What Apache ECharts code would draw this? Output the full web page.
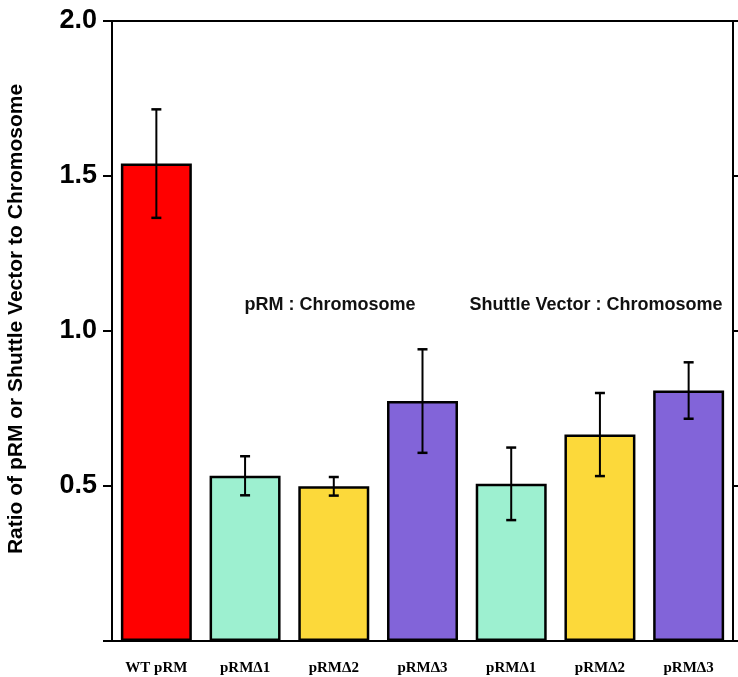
<!DOCTYPE html>
<html>
<head>
<meta charset="utf-8">
<script src="https://cdn.jsdelivr.net/npm/echarts@6/dist/echarts.min.js"></script>
<style>html,body{margin:0;padding:0;background:#fff;}#c{width:738px;height:677px;}</style>
</head>
<body>
<div id="c"></div>
<script>
var categories = ['WT pRM', 'pRM\u03941', 'pRM\u03942', 'pRM\u03943', 'pRM\u03941', 'pRM\u03942', 'pRM\u03943'];
var means = [1.54, 0.533, 0.499, 0.774, 0.507, 0.666, 0.808];
var errors = [0.175, 0.063, 0.03, 0.167, 0.117, 0.134, 0.091];
var barColors = ['#FF0000', '#9DF0D0', '#FCD93A', '#8264D9', '#9DF0D0', '#FCD93A', '#8264D9'];
var yTicks = [0, 0.5, 1.0, 1.5, 2.0];
var yTitle = 'Ratio of pRM or Shuttle Vector to Chromosome';
var groupLabels = ['pRM : Chromosome', 'Shuttle Vector : Chromosome'];

var chart = echarts.init(document.getElementById('c'));
var errData = means.map(function (m, i) { return [i, m - errors[i], m + errors[i]]; });

chart.setOption({
  animation: false,
  grid: { left: 112, right: 5, top: 21, bottom: 36, outerBoundsMode: 'none', containLabel: false },
  xAxis: [{
    type: 'category',
    data: categories,
    axisLine: { onZero: false, lineStyle: { color: '#000', width: 2 } },
    axisTick: { show: false },
    axisLabel: { fontFamily: 'Liberation Serif', fontWeight: 'bold', fontSize: 15, color: '#000', margin: 20 }
  }, {
    type: 'category',
    position: 'top',
    data: categories,
    axisLine: { onZero: false, lineStyle: { color: '#000', width: 2 } },
    axisTick: { show: false },
    axisLabel: { show: false }
  }],
  yAxis: [{
    type: 'value',
    min: yTicks[0], max: yTicks[yTicks.length - 1], interval: 0.5,
    splitLine: { show: false },
    axisLine: { show: true, onZero: false, lineStyle: { color: '#000', width: 2 } },
    axisTick: { show: true, length: 9, lineStyle: { color: '#000', width: 2 } },
    axisLabel: {
      fontFamily: 'Liberation Sans', fontWeight: 'bold', fontSize: 27, color: '#000', margin: 15,
      formatter: function (v) { return v === 0 ? '' : v.toFixed(1); }
    }
  }, {
    type: 'value',
    position: 'right',
    min: yTicks[0], max: yTicks[yTicks.length - 1], interval: 0.5,
    splitLine: { show: false },
    axisLine: { show: true, onZero: false, lineStyle: { color: '#000', width: 2 } },
    axisTick: { show: true, length: 6, lineStyle: { color: '#000', width: 2 } },
    axisLabel: { show: false }
  }],
  series: [{
    type: 'bar',
    barWidth: '80%',
    data: means.map(function (m, i) {
      return { value: m, itemStyle: { color: barColors[i], borderColor: '#000', borderWidth: 2.5 } };
    }),
    z: 2
  }, {
    type: 'custom',
    z: 5,
    data: errData,
    renderItem: function (params, api) {
      var x = api.value(0);
      var lo = api.coord([x, api.value(1)]);
      var hi = api.coord([x, api.value(2)]);
      var hw = 5;
      var st = { stroke: '#000', lineWidth: 2 };
      var cap = { stroke: '#000', lineWidth: 2.5 };
      return {
        type: 'group',
        children: [
          { type: 'line', shape: { x1: lo[0], y1: lo[1], x2: hi[0], y2: hi[1] }, style: st },
          { type: 'line', shape: { x1: lo[0] - hw, y1: lo[1], x2: lo[0] + hw, y2: lo[1] }, style: cap },
          { type: 'line', shape: { x1: hi[0] - hw, y1: hi[1], x2: hi[0] + hw, y2: hi[1] }, style: cap }
        ]
      };
    }
  }],
  graphic: [
    { type: 'text', x: 16, y: 319, rotation: Math.PI / 2, style: { text: yTitle, font: 'bold 21px "Liberation Sans"', fill: '#000', align: 'center', verticalAlign: 'middle' } },
    { type: 'text', x: 330, y: 305, style: { text: groupLabels[0], font: 'bold 18px "Liberation Sans"', fill: '#111', align: 'center', verticalAlign: 'middle' } },
    { type: 'text', x: 596, y: 305, style: { text: groupLabels[1], font: 'bold 18px "Liberation Sans"', fill: '#111', align: 'center', verticalAlign: 'middle' } }
  ]
});
</script>
</body>
</html>
